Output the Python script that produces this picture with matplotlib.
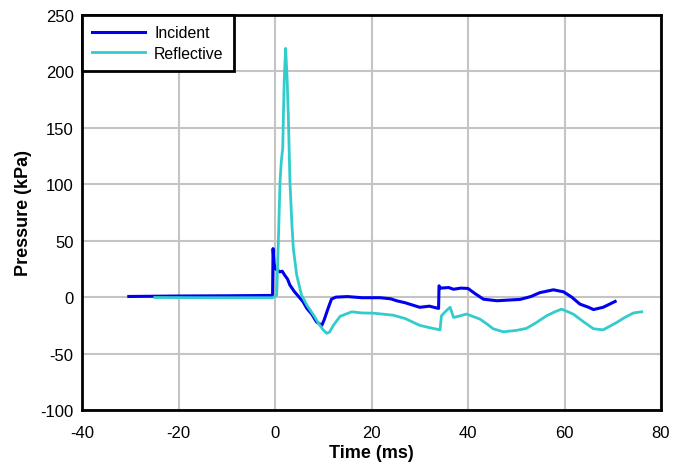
import matplotlib.pyplot as plt

# values (time in ms, pressure in kPa)
incident_t = [-30.3, -20, -10, -1.0, -0.5, -0.4, -0.2, 0.0, 0.5, 1.0, 1.5, 2.0, 2.6, 3.1,
              4.0, 4.8, 5.8, 6.6, 7.6, 8.6, 9.7, 10.2, 11.0, 11.7, 12.6, 15, 18, 21.8,
              24, 25.2, 27, 30, 32, 33.9, 34.0, 34.3, 36, 37, 38.5, 40, 41.5, 43.2,
              46, 50.8, 53, 54.9, 57.7, 59.8, 61.5, 63.2, 65, 66, 68, 70.5]
incident_p = [0.6, 1.0, 1.2, 1.5, 1.5, 43, 30, 25.4, 24, 22.4, 23, 19.5, 16, 10.6,
              5, 1.0, -4, -10, -15, -21.9, -25, -20, -10, -1.8, 0, 0.5, -0.5, -0.5,
              -1.5, -3.2, -5, -9, -8, -10, 10, 8, 8.5, 7, 8, 7.7, 3, -1.8,
              -3.2, -2, 0.5, 4, 6.5, 4.7, 0, -6.2, -9, -11, -9, -3.8]

reflect_t = [-24.9, -15, -5, -0.5, 0.35, 0.7, 1.04, 1.3, 1.6, 1.9, 2.2, 2.5, 2.76, 3.1,
             3.5, 3.8, 4.5, 5.5, 6.6, 8.0, 9.3, 10.0, 10.7, 11.3, 12.1, 13.5, 15.9,
             18, 20.4, 24.5, 27, 30, 32, 34.2, 34.5, 35.5, 36.3, 37, 38, 39.7, 42.5,
             44, 45.2, 47.3, 50, 52.1, 54, 56.3, 58, 59.4, 61.8, 64, 66, 68, 70.8,
             72.5, 74.3, 76]
reflect_p = [-0.3, -0.5, -0.5, -0.5, 1.8, 50, 102, 120, 132, 191, 220.4, 195, 161, 102,
             65, 43, 19.5, 1.8, -7, -16, -25, -29, -32, -31, -25, -17, -13,
             -14, -14.2, -16, -19, -25, -27, -29, -16.5, -12, -9, -18, -17, -15, -19.5,
             -24, -28, -30.7, -29.5, -27.7, -23, -16.5, -13, -10.6, -15, -22, -28, -29, -22.5,
             -18, -14, -13]

xticks = [-40, -20, 0, 20, 40, 60, 80]
yticks = [-100, -50, 0, 50, 100, 150, 200, 250]

plt.rcParams['font.family'] = ['Liberation Sans', 'DejaVu Sans']

fig = plt.figure(figsize=(6.86, 4.64), dpi=100)
ax = fig.add_axes([82 / 686, 53 / 464, 579 / 686, 395 / 464])

ax.plot(incident_t, incident_p, color='#0000ee', linewidth=2.2, label='Incident')
ax.plot(reflect_t, reflect_p, color='#33cccc', linewidth=2.0, label='Reflective')

ax.set_xlim(-40, 80)
ax.set_ylim(-100, 250)
ax.set_xticks(xticks)
ax.set_yticks(yticks)
ax.set_xticklabels([str(v) for v in xticks])
ax.set_yticklabels([str(v) for v in yticks])
ax.tick_params(axis='x', length=0, labelsize=12, pad=11)
ax.tick_params(axis='y', length=0, labelsize=12, pad=6)
ax.grid(True, color='#c4c4c4', linewidth=1.5)
ax.set_axisbelow(True)
for s in ax.spines.values():
    s.set_linewidth(2)
    s.set_color('black')

ax.set_xlabel('Time (ms)', fontsize=13, fontweight='bold', labelpad=3)
ax.set_ylabel('Pressure (kPa)', fontsize=13, fontweight='bold', labelpad=6)

leg = ax.legend(loc='upper left', fontsize=11.4, frameon=True, fancybox=False,
                borderaxespad=0, handlelength=3.35, handletextpad=0.55,
                labelspacing=0.35, borderpad=0.65)
leg.get_frame().set_edgecolor('black')
leg.get_frame().set_linewidth(2)
leg.get_frame().set_alpha(1)

fig.savefig('out.png', dpi=100)
